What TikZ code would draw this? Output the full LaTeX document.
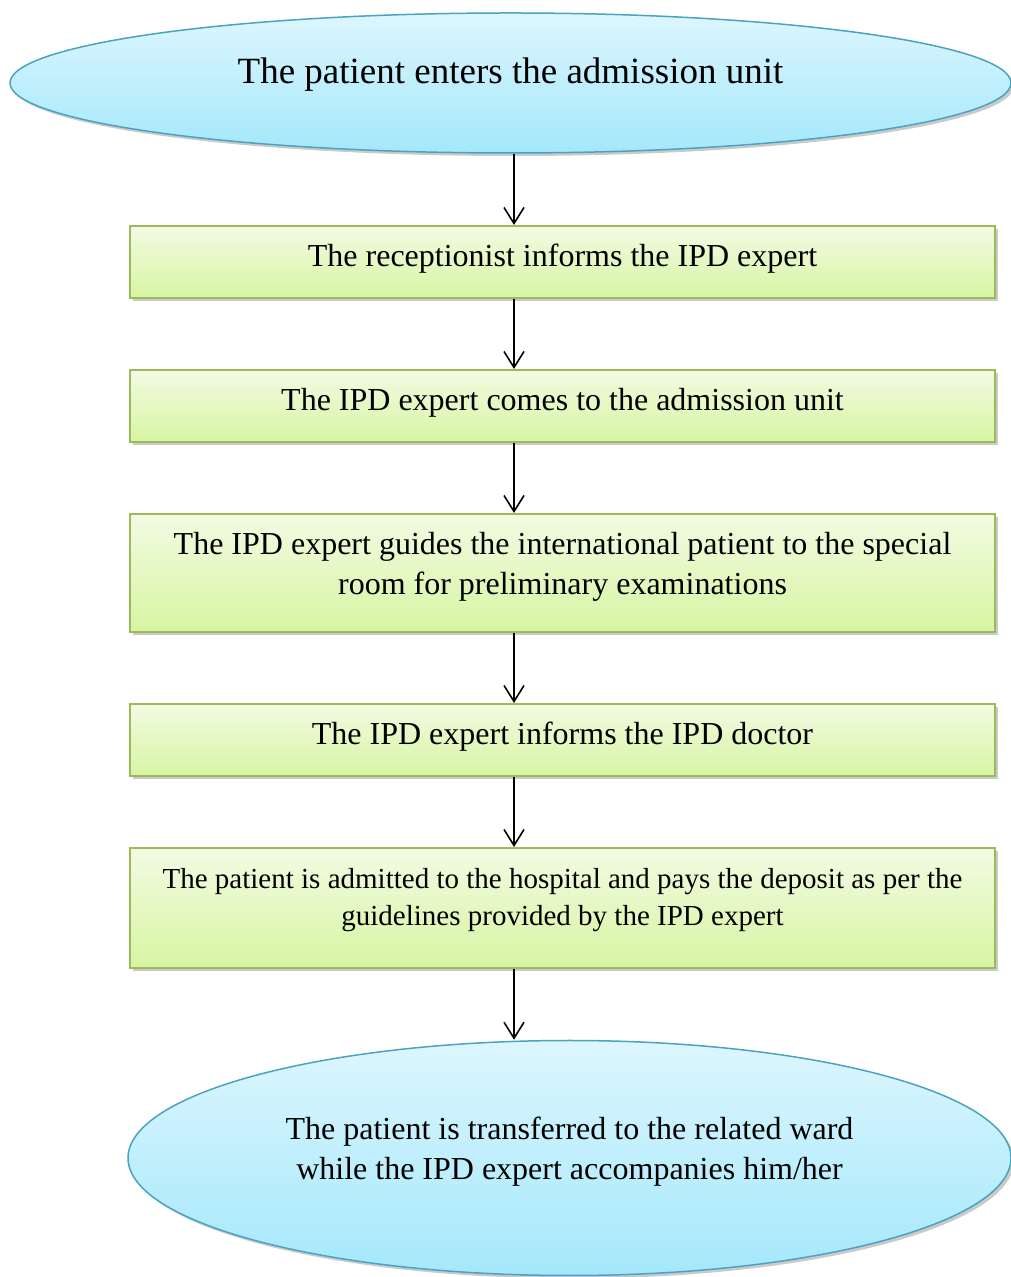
\documentclass[tikz,border=0pt]{standalone}
\usepackage{fontspec}
\setmainfont{Liberation Serif}
\usetikzlibrary{arrows.meta,shapes.geometric,shadows}
\definecolor{ovaltop}{HTML}{DDF6FE}
\definecolor{ovalbottom}{HTML}{A4E8FB}
\definecolor{ovalline}{HTML}{4BA3C0}
\definecolor{boxtop}{HTML}{F2FBE3}
\definecolor{boxbottom}{HTML}{D7F5A2}
\definecolor{boxline}{HTML}{9BBB59}
% text lifted inside its shape, the shape keeps its size
\newcommand{\liftedtext}[2]{\raisebox{#1}[\height][\depth]{\begin{tabular}{@{}c@{}}#2\end{tabular}}}
\begin{document}
\begin{tikzpicture}[
    oval/.style={ellipse,draw=ovalline,line width=0.75bp,inner sep=0pt,
      top color=ovaltop,bottom color=ovalbottom,
      drop shadow={shadow xshift=1.5bp,shadow yshift=-1.5bp,opacity=0.35,fill=black!60}},
    stepbox/.style={rectangle,draw=boxline,line width=1bp,inner sep=0pt,
      minimum width=432.5bp,top color=boxtop,bottom color=boxbottom,
      font=\fontsize{16bp}{20bp}\selectfont,
      drop shadow={shadow xshift=1.5bp,shadow yshift=-1.5bp,opacity=0.35,fill=black!60}},
    flow/.style={->,line width=0.8bp},
    >={Straight Barb[length=8bp,width=10bp]}]
  \useasboundingbox (0bp,0bp) rectangle (505.5bp,638.5bp);
		%%
  \node (Enter) at (255.25bp,597.0bp) [oval,minimum width=500.5bp,minimum height=70bp,font=\fontsize{18.5bp}{22bp}\selectfont] {\liftedtext{4bp}{The patient enters the admission unit}};
  \node (Inform) at (281.25bp,507.5bp) [stepbox,minimum height=36bp] {\liftedtext{1.5bp}{The receptionist informs the IPD expert}};
  \node (Comes) at (281.25bp,435.5bp) [stepbox,minimum height=36bp] {\liftedtext{1.5bp}{The IPD expert comes to the admission unit}};
  \node (Guide) at (281.25bp,352.0bp) [stepbox,minimum height=59bp] {\liftedtext{3bp}{The IPD expert guides the international patient to the special\\room for preliminary examinations}};
  \node (Doctor) at (281.25bp,268.5bp) [stepbox,minimum height=36bp] {\liftedtext{1.5bp}{The IPD expert informs the IPD doctor}};
  \node (Admit) at (281.25bp,184.5bp) [stepbox,minimum height=60bp,font=\fontsize{14.5bp}{18.5bp}\selectfont] {\liftedtext{4bp}{The patient is admitted to the hospital and pays the deposit as per the\\guidelines provided by the IPD expert}};
  \node (Ward) at (284.75bp,59.5bp) [oval,minimum width=441.5bp,minimum height=117.5bp,font=\fontsize{16bp}{20bp}\selectfont] {\liftedtext{3bp}{The patient is transferred to the related ward\\while the IPD expert accompanies him/her}};
  \coordinate (axis) at (257.0bp,638.5bp);
  \draw [flow] (axis |- Enter.south) -- (axis |- Inform.north);
  \draw [flow] (axis |- Inform.south) -- (axis |- Comes.north);
  \draw [flow] (axis |- Comes.south) -- (axis |- Guide.north);
  \draw [flow] (axis |- Guide.south) -- (axis |- Doctor.north);
  \draw [flow] (axis |- Doctor.south) -- (axis |- Admit.north);
  \draw [flow] (axis |- Admit.south) -- (axis |- Ward.north);
		%
\end{tikzpicture}
\end{document}
